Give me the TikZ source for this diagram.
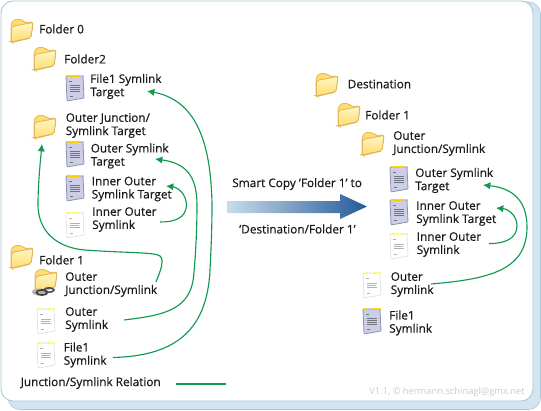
\documentclass[tikz,border=0pt]{standalone}
\usepackage{fontspec}
\setmainfont{Open Sans}[BoldFont={Open Sans},BoldFeatures={FakeBold=0.5}]
\usetikzlibrary{arrows.meta}
\definecolor{frameblue}{HTML}{D3E5F0}
\definecolor{frameedge}{HTML}{A9C9DA}
\definecolor{relgreen}{HTML}{109A50}
\definecolor{txt}{HTML}{1A1A1A}
\definecolor{foldlight}{HTML}{FFF6C4}
\definecolor{foldmid}{HTML}{FFDD70}
\definecolor{foldedge}{HTML}{E6B85C}
\definecolor{docedge}{HTML}{8A93B5}
\definecolor{docline}{HTML}{6F7680}
\definecolor{arrowlight}{HTML}{C9DCE8}
\definecolor{arrowdark}{HTML}{235A9A}
\tikzset{
  x=0.75pt,y=-0.75pt,
  lbl/.style={anchor=west,inner sep=0pt,text=txt,align=left,font=\fontsize{8.85pt}{9.9pt}\selectfont\bfseries},
  rel/.style={draw=relgreen,line width=0.85pt},
  relarrow/.style={rel,-{Latex[length=5.5pt,width=5.5pt]}},
  pics/folder/.style={code={
    \fill[foldmid,draw=foldedge,line width=0.6pt,rounded corners=1.5pt]
      (-10,-7) -- (-10,11) -- (-9,11.5) -- (10,7) -- (12,-9) -- (3,-8.5) -- (1,-11.5) -- (-7,-11.5) -- cycle;
    \fill[top color=foldlight,bottom color=foldmid,draw=foldedge,line width=0.6pt,rounded corners=1.5pt]
      (-9.5,-4.5) -- (-9.5,11) -- (10,6.5) -- (12,-8.5) -- cycle;
  }},
  pics/fulldoc/.style={code={
    \fill[white!88!blue!80!gray,draw=docedge,line width=0.6pt,rounded corners=0.6pt] (-9,-12) -- (8,-12) -- (9,10) -- (-8,13) -- cycle;
    \draw[yellow!70!orange,line width=1.1pt,dash pattern=on 1.2pt off 0.5pt] (-8,-12) -- (8,-12);
    \draw[docline,line width=0.7pt] (-6,-7) -- (-3,-7) (-5,-3) -- (5,-3) (-5,-1) -- (5,-1) (-5,1) -- (5,1) (-5,3) -- (5,3) (-5,8) -- (-2,8);
  }},
  pics/paledoc/.style={code={
    \fill[white,draw=blue!10!gray!22,line width=0.5pt,rounded corners=0.6pt] (-9,-12) -- (8,-12) -- (9,10) -- (-8,13) -- cycle;
    \draw[yellow!50,line width=1.1pt,dash pattern=on 1.2pt off 0.5pt] (-8,-12) -- (8,-12);
    \draw[gray!60,line width=0.4pt] (-6,-7) -- (-3,-7) (-5,-2) -- (5,-2) (-5,0) -- (4,0) (-5,2) -- (5,2) (-5,8) -- (-2,8);
  }}
}
\begin{document}
\begin{tikzpicture}
\useasboundingbox (0,0) rectangle (541,410);
% frame
\fill[frameblue,draw=frameedge,line width=0.5pt,rounded corners=9pt] (8,2) rectangle (540.5,409.5);
\fill[white,draw=frameedge,line width=0.7pt,rounded corners=9pt] (1,1) rectangle (533,401);
% folders
\pic at (21,31) {folder};
\pic at (44,59) {folder};
\pic at (44,127) {folder};
\pic at (21,257) {folder};
\pic at (45,281) {folder};
\fill[gray!60] (40,292) ellipse (8 and 3.5);
\draw[gray!50!black,line width=1.2pt] (42,292.5) ellipse (5.5 and 2.6);
\draw[gray!60!black,line width=1.2pt] (49,290) ellipse (5 and 2.2);
\pic at (326,85) {folder};
\pic at (348,115) {folder};
\pic at (372,144) {folder};
% documents
\pic at (75,88) {fulldoc};
\pic at (75,154) {fulldoc};
\pic at (75,188) {fulldoc};
\pic at (75,225) {paledoc};
\pic at (46,321) {paledoc};
\pic at (46,355) {paledoc};
\pic at (399,179) {fulldoc};
\pic at (399,212) {fulldoc};
\pic at (399,246) {paledoc};
\pic at (372,285) {paledoc};
\pic at (372,321) {fulldoc};
% labels
\node[lbl] (f0) at (39,29) {Folder 0};
\node[lbl] (f2) at (64,59) {Folder2};
\node[lbl] (t1) at (90,86.5) {File1 Symlink\\Target};
\node[lbl] (t2) at (65.5,125.5) {Outer Junction/\\Symlink Target};
\node[lbl] (t3) at (90.5,156) {Outer Symlink\\Target};
\node[lbl] (t4) at (91.5,189) {Inner Outer\\Symlink Target};
\node[lbl] (s4) at (92,219.5) {Inner Outer\\Symlink};
\node[lbl] (f1) at (39,260) {Folder 1};
\node[lbl] (s2) at (65,284.5) {Outer\\Junction/Symlink};
\node[lbl] (s3) at (65,319.5) {Outer\\Symlink};
\node[lbl] (s1) at (63.5,355) {File1\\Symlink};
\node[lbl] (rel) at (20.5,383) {Junction/Symlink Relation};
\node[lbl] (cp1) at (232,184) {Smart Copy 'Folder 1' to};
\node[lbl] (cp2) at (239,229) {'Destination/Folder 1'};
\node[lbl] (d0) at (347.5,84) {Destination};
\node[lbl] (d1) at (365,115) {Folder 1};
\node[lbl] (d2) at (393,143.5) {Outer\\Junction/Symlink};
\node[lbl] (d3) at (415,180.5) {Outer Symlink\\Target};
\node[lbl] (d4) at (416,213.5) {Inner Outer\\Symlink Target};
\node[lbl] (d5) at (416.5,244.5) {Inner Outer\\Symlink};
\node[lbl] (d6) at (390.5,284.5) {Outer\\Symlink};
\node[lbl] (d7) at (389,323) {File1\\Symlink};
\node[anchor=east,inner sep=0pt,text=gray!40,font=\fontsize{7pt}{9pt}\selectfont] (ver) at (525,392) {V1.1, © hermann.schinagl@gmx.net};
% big arrow
\shade[left color=arrowlight,right color=arrowdark] (227,201) -- (340,201) -- (340,194) -- (367,206.5) -- (340,219) -- (340,213) -- (227,213) -- cycle;
% connector ends
\coordinate (a1) at (113,357.5); \coordinate (b1) at (147,91);
\coordinate (a2) at (124,320);   \coordinate (b2) at (155,159);
\coordinate (a3) at (160,222);   \coordinate (b3) at (166,186);
\coordinate (a4) at (156,282);   \coordinate (b4) at (42,144);
\coordinate (a5) at (489,243.5); \coordinate (b5) at (496,208);
\coordinate (a6) at (431,284);   \coordinate (b6) at (483,185);
\coordinate (l1) at (176,384);   \coordinate (l2) at (226,384);
\draw[relarrow] (a1) .. controls (170,356) and (207,335) .. (210,270) .. controls (211,250) and (212,230) .. (212,205) .. controls (211,140) and (195,100) .. (b1);
\draw[relarrow] (a2) .. controls (165,315) and (192,310) .. (194,272) .. controls (196,250) and (197,225) .. (197,205) .. controls (197,175) and (185,163) .. (b2);
\draw[relarrow] (a3) .. controls (175,222) and (186,218) .. (186.5,205) .. controls (186,192) and (176,187) .. (b3);
\draw[relarrow] (a4) .. controls (160,272) and (165,260) .. (160,256) .. controls (155,252) and (125,253) .. (85,250) .. controls (50,247) and (38,225) .. (38,205) .. controls (38,185) and (40,165) .. (b4);
\draw[relarrow] (a5) .. controls (505,244) and (517,238) .. (517,226) .. controls (517,215) and (508,209) .. (b5);
\draw[relarrow] (a6) .. controls (490,279) and (527,270) .. (527,227) .. controls (527,200) and (512,188) .. (b6);
\draw[rel] (l1) -- (l2);
\end{tikzpicture}
\end{document}
